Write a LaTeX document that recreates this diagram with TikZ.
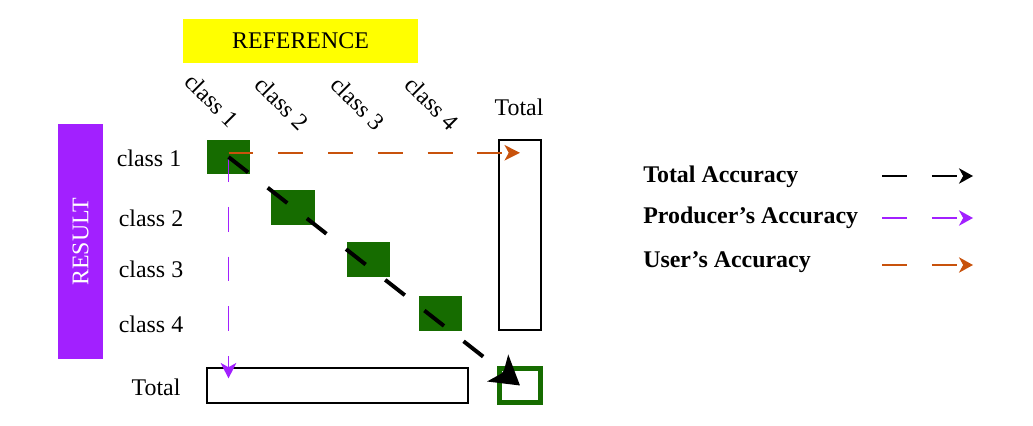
\documentclass[tikz,border=0pt]{standalone}
\usepackage{fontspec}
\setmainfont{Liberation Serif}
\usetikzlibrary{arrows.meta, positioning}

\definecolor{cellgreen}{RGB}{22,108,0}
\definecolor{refyellow}{RGB}{255,255,0}
\definecolor{respurple}{RGB}{162,32,255}
\definecolor{useorange}{RGB}{200,82,12}

\begin{document}
\begin{tikzpicture}[
  x=0.025cm, y=-0.025cm,
  font=\fontsize{17}{20}\selectfont,
  refbox/.style={rectangle, fill=refyellow, minimum width=5.875cm, minimum height=1.1cm, inner sep=0pt},
  resbox/.style={rectangle, fill=respurple, text=white, minimum width=5.875cm, minimum height=1.125cm, inner sep=0pt, rotate=90},
  cell/.style={rectangle, fill=cellgreen, minimum width=1.08cm, minimum height=0.87cm, inner sep=0pt},
  totbox/.style={rectangle, draw, line width=1pt, inner sep=0pt},
  collbl/.style={rotate=-45, inner sep=0pt},
  rowlbl/.style={inner sep=0pt},
  leglbl/.style={anchor=west, inner sep=0pt, font=\fontsize{17}{20}\selectfont\bfseries},
  dashline/.style={dash pattern=on 17.7pt off 17.7pt},
  totarrow/.style={-{Stealth[length=20pt, width=24pt, inset=5pt]}, line width=2.8pt, dashline},
  prodarrow/.style={-{Stealth[length=11pt, width=11pt, inset=3pt]}, line width=1.1pt, draw=respurple, dashline},
  userarrow/.style={-{Stealth[length=11pt, width=11pt, inset=3pt]}, line width=1.1pt, draw=useorange, dashline},
  legarrow/.style={-{Stealth[length=10pt, width=11pt, inset=3pt]}, line width=1.1pt, dashline}
]
\useasboundingbox (0,0) rectangle (1033,426);

% Matrix frame
\node[refbox] (ref) at (300.5,41) {REFERENCE};
\node[resbox] (res) at (80.5,241.5) {RESULT};

% Column labels
\node[collbl] (col1) at (212,100) {class 1};
\node[collbl] (col2) at (282,103) {class 2};
\node[collbl] (col3) at (358,103) {class 3};
\node[collbl] (col4) at (432,103) {class 4};
\node[rowlbl] (coltot) at (519,107) {Total};

% Row labels
\node[rowlbl] (row1) at (149,158) {class 1};
\node[rowlbl] (row2) at (151,218) {class 2};
\node[rowlbl] (row3) at (151,269) {class 3};
\node[rowlbl] (row4) at (151,324) {class 4};
\node[rowlbl] (rowtot) at (156,387) {Total};

% Diagonal cells
\node[cell] (c11) at (228.5,157) {};
\node[cell] (c22) at (293,207.5) {};
\node[cell] (c33) at (368.5,259.5) {};
\node[cell] (c44) at (440.5,313.5) {};

% Totals
\node[totbox, minimum width=1.05cm, minimum height=4.75cm] (totcol) at (520,235) {};
\node[totbox, minimum width=6.525cm, minimum height=0.875cm] (totrow) at (337.5,385.5) {};
\node[rectangle, draw=cellgreen, line width=3.6pt, minimum width=1.03cm, minimum height=0.85cm, inner sep=0pt] (totall) at (520,385.5) {};

% Accuracy arrows
\draw[userarrow] ([yshift=3pt]c11.center) -- ([yshift=3pt]totcol.center |- c11.center);
\draw[prodarrow] (c11.center) -- ([yshift=5pt]c11.center |- totrow.center);
\draw[totarrow] (c11.center) -- (totall.center);

% Legend
\node[leglbl] (legtot) at (643,177) {Total Accuracy};
\node[leglbl] (legprod) at (643,218) {Producer's Accuracy};
\node[leglbl] (leguser) at (643,262) {User's Accuracy};

\coordinate (lt1) at (882,176);
\coordinate (lt2) at (973,176);
\coordinate (lp1) at (882,218);
\coordinate (lp2) at (973,218);
\coordinate (lu1) at (882,265);
\coordinate (lu2) at (973,265);

\draw[legarrow] (lt1) -- (lt2);
\draw[legarrow, draw=respurple] (lp1) -- (lp2);
\draw[legarrow, draw=useorange] (lu1) -- (lu2);

\end{tikzpicture}
\end{document}
